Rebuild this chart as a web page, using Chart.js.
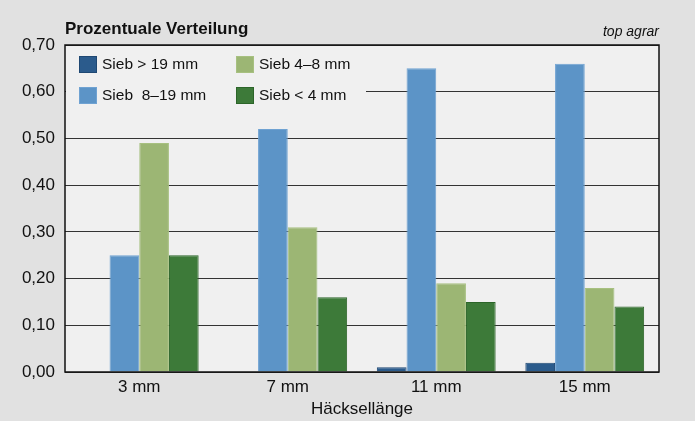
<!DOCTYPE html>
<html>
<head>
<meta charset="utf-8">
<script src="https://cdn.jsdelivr.net/npm/chart.js@4"></script>
<style>
  body { margin: 0; background: #e1e1e1; }
  canvas { display: block; }
</style>
</head>
<body>
<canvas id="myChart" width="695" height="421"></canvas>
<script>
// categories + series
const categories = ['3 mm', '7 mm', '11 mm', '15 mm'];
const sieb_gt19 = [0, 0, 0.01, 0.02];
const sieb_8_19 = [0.25, 0.52, 0.65, 0.66];
const sieb_4_8 = [0.49, 0.31, 0.19, 0.18];
const sieb_lt4 = [0.25, 0.16, 0.15, 0.14];
const seriesLabels = ['Sieb > 19 mm', 'Sieb  8\u201319 mm', 'Sieb 4\u20138 mm', 'Sieb < 4 mm'];

const FONT = '"Liberation Sans", Arial, Helvetica, sans-serif';

// plot background, border, titles, legend
const deco = {
    id: 'deco',
    beforeDraw(chart) {
        const c = chart.ctx, a = chart.chartArea;
        c.save();
        c.fillStyle = '#f0f0f0';
        c.fillRect(a.left, a.top, a.right - a.left, a.bottom - a.top);
        c.restore();
    },
    beforeDatasetsDraw(chart) {
        const c = chart.ctx, a = chart.chartArea;
        c.save();
        // legend box covers gridlines
        c.fillStyle = '#f0f0f0';
        c.fillRect(a.left + 1, a.top + 1, 300, 64);
        c.font = '15.5px ' + FONT;
        c.textBaseline = 'middle';
        c.textAlign = 'left';
        chart.data.datasets.forEach((ds, i) => {
            const col = Math.floor(i / 2), row = i % 2;
            const x = a.left + 14 + col * 157;
            const y = a.top + 20 + row * 31;
            c.fillStyle = ds.backgroundColor;
            c.fillRect(x, y - 9, 18, 17);
            c.strokeStyle = ds.borderColor;
            c.lineWidth = 1;
            c.strokeRect(x + 0.5, y - 8.5, 17, 16);
            c.fillStyle = '#111';
            c.fillText(ds.label, x + 23, y);
        });
        c.restore();
    },
    afterDraw(chart) {
        const c = chart.ctx, a = chart.chartArea;
        c.save();
        c.strokeStyle = '#111';
        c.lineWidth = 1.5;
        c.strokeRect(a.left, a.top, a.right - a.left, a.bottom - a.top);
        c.fillStyle = '#111';
        c.textBaseline = 'alphabetic';
        c.textAlign = 'left';
        c.font = 'bold 17px ' + FONT;
        c.fillText('Prozentuale Verteilung', a.left, 34);
        c.textAlign = 'right';
        c.font = 'italic 14px ' + FONT;
        c.fillText('top agrar', a.right, 36);
        c.restore();
    }
};

var ctx = document.getElementById('myChart').getContext('2d');
var myChart = new Chart(ctx, {
    type: 'bar',
    data: {
        labels: categories,
        datasets: [{
            label: seriesLabels[0],
            data: sieb_gt19,
            backgroundColor: '#2b5b8c',
            borderColor: '#1f4873'
        }, {
            label: seriesLabels[1],
            data: sieb_8_19,
            backgroundColor: '#5c94c7',
            borderColor: '#6fa2d2'
        }, {
            label: seriesLabels[2],
            data: sieb_4_8,
            backgroundColor: '#9cb674',
            borderColor: '#a7c080'
        }, {
            label: seriesLabels[3],
            data: sieb_lt4,
            backgroundColor: '#3d7a39',
            borderColor: '#2c6529'
        }]
    },
    options: {
        responsive: false,
        animation: false,
        layout: { padding: { top: 45, right: 36, bottom: 0, left: 0 } },
        datasets: {
            bar: { borderWidth: 1, barPercentage: 1, categoryPercentage: 0.8 }
        },
        plugins: {
            legend: { display: false },
            tooltip: { enabled: false }
        },
        scales: {
            x: {
                grid: { display: false },
                border: { display: false },
                ticks: { color: '#111', font: { family: FONT, size: 17 }, padding: -3 },
                title: { display: true, text: 'H\u00e4cksell\u00e4nge', color: '#111', font: { family: FONT, size: 17 }, padding: { top: 0, bottom: 1 } },
                afterFit(scale) { scale.height = 49; }
            },
            y: {
                min: 0,
                max: 0.7,
                beginAtZero: true,
                grid: { color: '#333', lineWidth: 1, drawTicks: false },
                border: { display: false },
                ticks: {
                    stepSize: 0.1,
                    color: '#111',
                    padding: 10,
                    font: { family: FONT, size: 17 },
                    callback: v => v.toFixed(2).replace('.', ',')
                },
                afterFit(scale) { scale.width = 65; }
            }
        }
    },
    plugins: [deco]
});
</script>
</body>
</html>
